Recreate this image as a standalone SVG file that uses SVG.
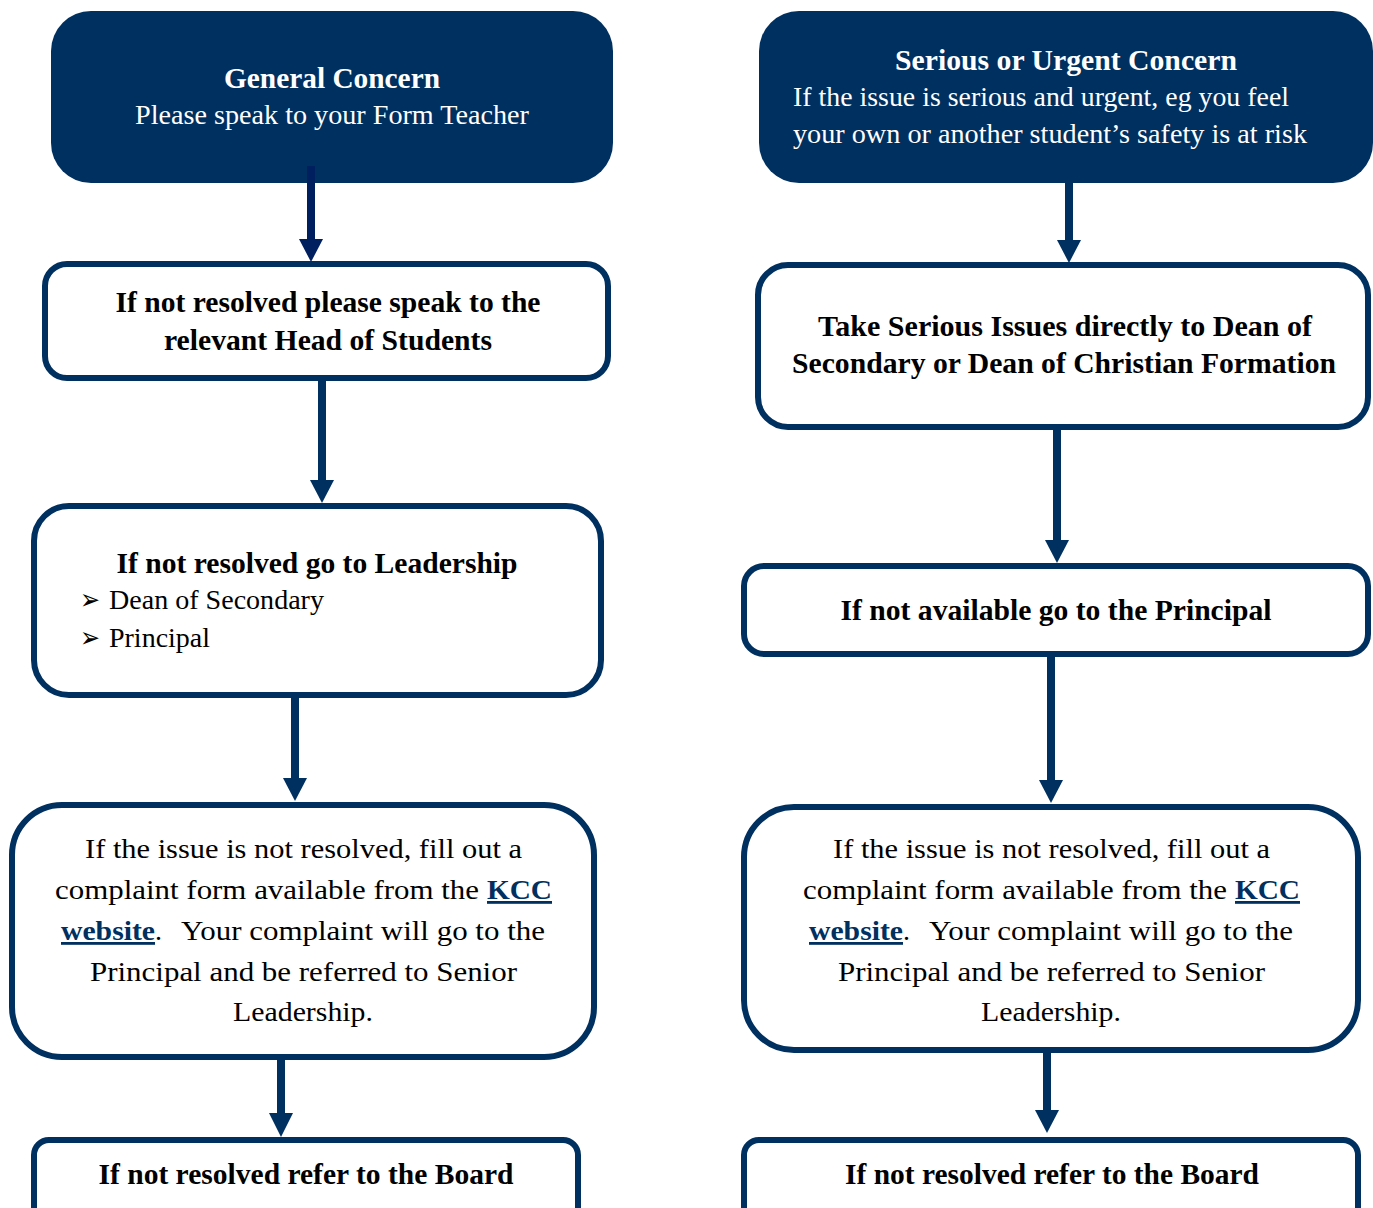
<svg xmlns="http://www.w3.org/2000/svg" width="1373" height="1208" viewBox="0 0 1373 1208">
<defs>
<style>
.box{fill:#ffffff;stroke:#00305f;stroke-width:6}
.hdr{fill:#00305f}
.conn line{stroke:#00305f;stroke-width:8}
.conn path{fill:#00305f}
text{font-family:"Liberation Serif","Times New Roman",serif;fill:#000}
.w{fill:#fff}
.b{font-weight:bold}
.t{font-size:28px}
.h{font-size:29px}
.lk{font-weight:bold;fill:#00305f;text-decoration:underline}
.bul{font-family:"DejaVu Sans",sans-serif;font-size:28px}
</style>
</defs>
<rect width="1373" height="1208" fill="#fff"/>

<g id="L1">
<rect class="hdr" x="51" y="11" width="562" height="172" rx="40"/>
<text class="w b h" x="332" y="88" text-anchor="middle" textLength="216" lengthAdjust="spacingAndGlyphs">General Concern</text>
<text class="w t" x="332" y="124" text-anchor="middle" textLength="394" lengthAdjust="spacingAndGlyphs">Please speak to your Form Teacher</text>
</g>

<g id="L2">
<rect class="box" x="45" y="264" width="563" height="114" rx="22"/>
<text class="b h" x="328" y="312" text-anchor="middle" textLength="425" lengthAdjust="spacingAndGlyphs">If not resolved please speak to the</text>
<text class="b h" x="328" y="350" text-anchor="middle" textLength="328" lengthAdjust="spacingAndGlyphs">relevant Head of Students</text>
</g>

<g id="L3">
<rect class="box" x="34" y="506" width="567" height="189" rx="35"/>
<text class="b h" x="317" y="573" text-anchor="middle" textLength="401" lengthAdjust="spacingAndGlyphs">If not resolved go to Leadership</text>
<text class="bul" x="80" y="609" textLength="20" lengthAdjust="spacingAndGlyphs">➢</text>
<text class="t" x="109" y="609" textLength="215" lengthAdjust="spacingAndGlyphs">Dean of Secondary</text>
<text class="bul" x="80" y="647" textLength="20" lengthAdjust="spacingAndGlyphs">➢</text>
<text class="t" x="109" y="647" textLength="101" lengthAdjust="spacingAndGlyphs">Principal</text>
</g>

<g id="L4">
<rect class="box" x="12" y="805" width="582" height="252" rx="50"/>
<text class="t" x="85" y="858" textLength="437" lengthAdjust="spacingAndGlyphs">If the issue is not resolved, fill out a</text>
<text class="t" x="55" y="899" textLength="424" lengthAdjust="spacingAndGlyphs">complaint form available from the</text>
<text class="t lk" x="487" y="899" textLength="65" lengthAdjust="spacingAndGlyphs">KCC</text>
<text class="t lk" x="61" y="940" textLength="94" lengthAdjust="spacingAndGlyphs">website</text>
<text class="t" x="155" y="940">.</text>
<text class="t" x="181" y="940" textLength="364" lengthAdjust="spacingAndGlyphs">Your complaint will go to the</text>
<text class="t" x="90" y="981" textLength="427" lengthAdjust="spacingAndGlyphs">Principal and be referred to Senior</text>
<text class="t" x="233" y="1021" textLength="140" lengthAdjust="spacingAndGlyphs">Leadership.</text>
</g>

<g id="L5">
<rect class="box" x="34" y="1140" width="544" height="100" rx="15"/>
<text class="b h" x="306" y="1184" text-anchor="middle" textLength="415" lengthAdjust="spacingAndGlyphs">If not resolved refer to the Board</text>
</g>

<g id="R1">
<rect class="hdr" x="759" y="11" width="614" height="172" rx="40"/>
<text class="w b h" x="1066" y="70" text-anchor="middle" textLength="342" lengthAdjust="spacingAndGlyphs">Serious or Urgent Concern</text>
<text class="w t" x="793" y="106" textLength="496" lengthAdjust="spacingAndGlyphs">If the issue is serious and urgent, eg you feel</text>
<text class="w t" x="793" y="143" textLength="514" lengthAdjust="spacingAndGlyphs">your own or another student’s safety is at risk</text>
</g>

<g id="R2">
<rect class="box" x="758" y="265" width="610" height="162" rx="30"/>
<text class="b h" x="1065" y="336" text-anchor="middle" textLength="494" lengthAdjust="spacingAndGlyphs">Take Serious Issues directly to Dean of</text>
<text class="b h" x="1064" y="373" text-anchor="middle" textLength="544" lengthAdjust="spacingAndGlyphs">Secondary or Dean of Christian Formation</text>
</g>

<g id="R3">
<rect class="box" x="744" y="566" width="624" height="88" rx="20"/>
<text class="b h" x="1056" y="620" text-anchor="middle" textLength="431" lengthAdjust="spacingAndGlyphs">If not available go to the Principal</text>
</g>

<g id="R4">
<rect class="box" x="744" y="807" width="614" height="243" rx="50"/>
<text class="t" x="833" y="858" textLength="437" lengthAdjust="spacingAndGlyphs">If the issue is not resolved, fill out a</text>
<text class="t" x="803" y="899" textLength="424" lengthAdjust="spacingAndGlyphs">complaint form available from the</text>
<text class="t lk" x="1235" y="899" textLength="65" lengthAdjust="spacingAndGlyphs">KCC</text>
<text class="t lk" x="809" y="940" textLength="94" lengthAdjust="spacingAndGlyphs">website</text>
<text class="t" x="903" y="940">.</text>
<text class="t" x="929" y="940" textLength="364" lengthAdjust="spacingAndGlyphs">Your complaint will go to the</text>
<text class="t" x="838" y="981" textLength="427" lengthAdjust="spacingAndGlyphs">Principal and be referred to Senior</text>
<text class="t" x="981" y="1021" textLength="140" lengthAdjust="spacingAndGlyphs">Leadership.</text>
</g>

<g id="R5">
<rect class="box" x="744" y="1140" width="614" height="100" rx="15"/>
<text class="b h" x="1052" y="1184" text-anchor="middle" textLength="414" lengthAdjust="spacingAndGlyphs">If not resolved refer to the Board</text>
</g>

<g id="connectors" class="conn">
<line x1="311" y1="166" x2="311" y2="241" style="stroke:#001f5f"/>
<path d="M299 239 L323 239 L311 262 Z" style="fill:#001f5f"/>
<line x1="322" y1="380" x2="322" y2="482"/>
<path d="M310 480 L334 480 L322 503 Z"/>
<line x1="295" y1="697" x2="295" y2="780"/>
<path d="M283 778 L307 778 L295 801 Z"/>
<line x1="281" y1="1059" x2="281" y2="1115"/>
<path d="M269 1113 L293 1113 L281 1137 Z"/>
<line x1="1069" y1="182" x2="1069" y2="242"/>
<path d="M1057 240 L1081 240 L1069 263 Z"/>
<line x1="1057" y1="429" x2="1057" y2="542"/>
<path d="M1045 540 L1069 540 L1057 563 Z"/>
<line x1="1051" y1="656" x2="1051" y2="782"/>
<path d="M1039 780 L1063 780 L1051 803 Z"/>
<line x1="1047" y1="1052" x2="1047" y2="1112"/>
<path d="M1035 1110 L1059 1110 L1047 1133 Z"/>
</g>
</svg>
